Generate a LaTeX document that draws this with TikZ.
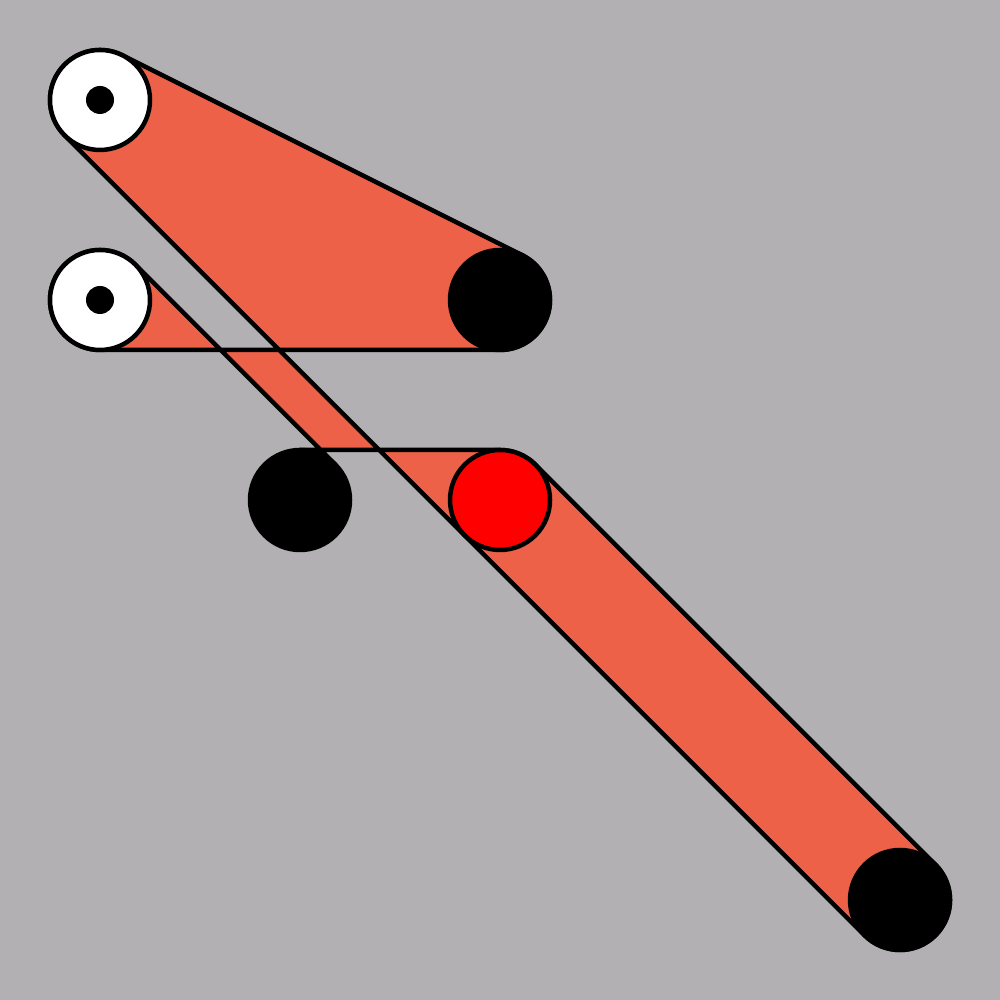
\documentclass[tikz,border=0pt]{standalone}
\usetikzlibrary{calc}
\definecolor{bgGray}{RGB}{179,176,179}
\definecolor{beltOrange}{RGB}{237,97,73}
\begin{document}
\begin{tikzpicture}[
  belt/.style={draw, line width=0.045cm, fill=beltOrange, line join=round},
  idler/.style={circle, draw, line width=0.045cm, fill=white, minimum size=1cm, inner sep=0pt},
  hub/.style={circle, fill=black, minimum size=0.28cm, inner sep=0pt},
  pulley/.style={circle, draw, line width=0.045cm, fill=black, minimum size=1cm, inner sep=0pt},
  driver/.style={circle, draw, line width=0.045cm, fill=red, minimum size=1cm, inner sep=0pt}
]

% Background
\fill[bgGray] (0,0) rectangle (10,10);
\useasboundingbox (0,0) rectangle (10,10);

% Pulley centres
\coordinate (c1) at (1,9);
\coordinate (c2) at (5,7);
\coordinate (c3) at (1,7);
\coordinate (c4) at (3,5);
\coordinate (c5) at (5,5);
\coordinate (c6) at (9,1);

% Belt
\draw[belt] ($(c1)+(63.43:0.5)$) -- ($(c2)+(63.43:0.5)$) arc[start angle=63.43, end angle=-90, radius=0.5]
  -- ($(c3)+(0,-0.5)$) arc[start angle=-90, end angle=-315, radius=0.5]
  -- ($(c4)+(45:0.5)$) arc[start angle=45, end angle=90, radius=0.5]
  -- ($(c5)+(0,0.5)$) arc[start angle=90, end angle=45, radius=0.5]
  -- ($(c6)+(45:0.5)$) arc[start angle=45, end angle=-135, radius=0.5]
  -- ($(c1)+(225:0.5)$) arc[start angle=225, end angle=63.43, radius=0.5] -- cycle;

% Idlers
\node[idler] (idlerA) at (c1) {};
\node[hub] (hubA) at (c1) {};
\node[idler] (idlerB) at (c3) {};
\node[hub] (hubB) at (c3) {};

% Pulleys
\node[pulley] (pulleyA) at (c2) {};
\node[pulley] (pulleyB) at (c4) {};
\node[pulley] (pulleyC) at (c6) {};
\node[driver] (drive) at (c5) {};

\end{tikzpicture}
\end{document}
